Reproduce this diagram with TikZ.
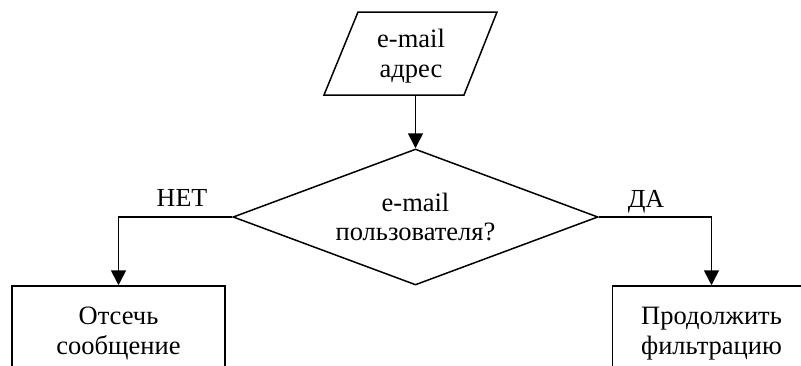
\documentclass[tikz,border=0pt]{standalone}
\usepackage{fontspec}
\setmainfont{Liberation Serif}
\usetikzlibrary{shapes.geometric,arrows.meta}
\begin{document}
\begin{tikzpicture}[x=1pt,y=-1pt,
  line width=1.5pt,
  txt/.style={font=\fontsize{26.5}{29.5}\selectfont, align=center, inner sep=0pt},
  box/.style={txt, draw, rectangle, minimum height=95pt},
  arr/.style={-{Triangle[length=15pt,width=15pt]}},
  lbl/.style={font=\fontsize{26}{29}\selectfont, inner sep=0pt, anchor=base}]
\useasboundingbox (0,0) rectangle (801,365);
\begin{scope}
\clip (0,0) rectangle (801,365);
% input parallelogram
\coordinate (p1) at (358,12);
\coordinate (p2) at (497,12);
\coordinate (p3) at (464,95);
\coordinate (p4) at (324,95);
\draw (p1) -- (p2) -- (p3) -- (p4) -- cycle;
\node[txt] (inp) at (411,56) {e-mail\\адрес};
\coordinate (inpout) at (415.5,95);
% decision
\node[txt, draw, diamond, aspect=2.68, minimum width=365pt, minimum height=136pt] (dec) at (415.5,217) {e-mail\\пользователя?};
% boxes
\node[box, minimum width=213pt] (no) at (118.5,333.5) {Отсечь\\сообщение};
\node[box, minimum width=198pt] (yes) at (711.5,333.5) {Продолжить\\фильтрацию};
% connectors
\draw[arr] (inpout) -- (dec.north);
\draw[arr] (dec.west) -| (no.north);
\draw[arr] (dec.east) -| (yes.north);
\end{scope}
\node[lbl] (lno) at (182,206) {НЕТ};
\node[lbl] (lyes) at (646,207) {ДА};
\end{tikzpicture}
\end{document}
